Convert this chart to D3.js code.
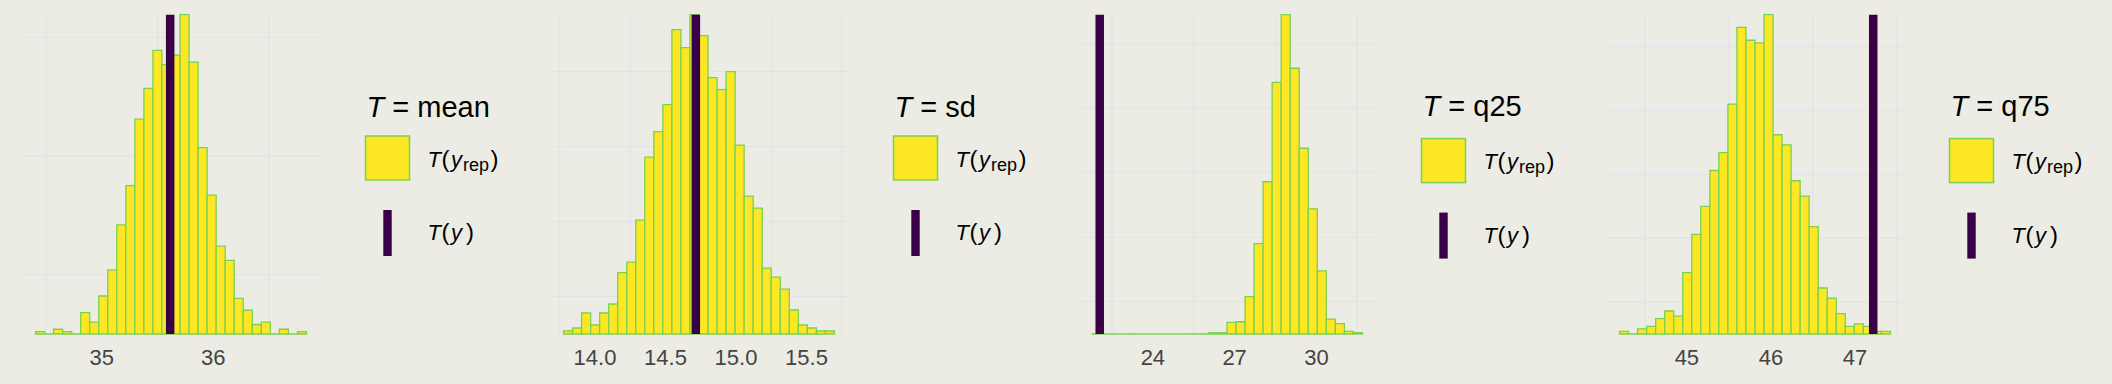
<!DOCTYPE html>
<html>
<head>
<meta charset="utf-8">
<script src="https://cdn.jsdelivr.net/npm/d3@7"></script>
<style>
  html, body { margin: 0; padding: 0; background: #ECECE4; }
  svg { display: block; }
  text { font-family: "Liberation Sans", Arial, sans-serif; }
</style>
</head>
<body>
<svg id="chart"></svg>
<script>
/* Data */
const statNames = ['mean', 'sd', 'q25', 'q75'];
// left / right edge of the 30 histogram bins
const binStarts = [34.405, 13.777, 21.75, 44.199];
const binEnds = [36.836, 15.698, 31.69, 47.422];
// observed statistic T(y)
const observed = [35.613, 14.715, 22.05, 47.217];

const countsMean = [2, 0, 4, 2, 0, 18, 10, 32, 54, 92, 125, 181, 207, 239, 227,
  235, 269, 229, 157, 117, 74, 62, 30, 20, 8, 10, 0, 4, 0, 2];
const countsSd = [2, 4, 14, 6, 14, 20, 41, 48, 76, 118, 135, 153, 203, 191, 213,
  199, 171, 163, 175, 126, 92, 84, 44, 38, 30, 16, 6, 4, 2, 2];
const countsQ25 = [0, 0, 0, 0, 0, 0, 0, 0, 0, 0, 0, 0, 0, 2, 2,
  18, 19, 58, 140, 236, 390, 495, 412, 288, 194, 98, 23, 16, 4, 2];
const countsQ75 = [2, 0, 4, 6, 12, 18, 14, 48, 78, 100, 128, 142, 180, 240, 230,
  228, 250, 156, 148, 120, 108, 84, 36, 28, 16, 6, 8, 6, 2, 2];
const allCounts = [countsMean, countsSd, countsQ25, countsQ75];

const ticksMean = [35, 36];
const ticksSd = [14.0, 14.5, 15.0, 15.5];
const ticksQ25 = [24, 27, 30];
const ticksQ75 = [45, 46, 47];
const allTicks = [ticksMean, ticksSd, ticksQ25, ticksQ75];
const tickFormats = ['d', '.1f', 'd', 'd'];
// step between major count breaks (grid is drawn at the minor ones)
const countSteps = [100, 50, 100, 50];

/* Layout */
const width = 2112, height = 384;
const panelW = 528;
const plot = { left: 22, right: 320, top: 14.7, bottom: 334 };
const colors = {
  bg: '#ECECE4',
  grid: '#E2E2E9',
  fill: '#FDE725',
  outline: '#7AD151',
  dark: '#3A0045',
  tick: '#444444'
};

const svg = d3.select('#chart')
  .attr('width', width)
  .attr('height', height);

svg.append('rect')
  .attr('width', width)
  .attr('height', height)
  .attr('fill', colors.bg);

function drawPanel(i) {
  const g = svg.append('g')
    .attr('transform', 'translate(' + (i * panelW) + ',0)');

  const counts = allCounts[i];
  const ticks = allTicks[i];
  const lo = binStarts[i], hi = binEnds[i];
  const pad = (hi - lo) * 0.05;
  const binW = (hi - lo) / counts.length;

  const x = d3.scaleLinear()
    .domain([lo - pad, hi + pad])
    .range([plot.left, plot.right]);
  const y = d3.scaleLinear()
    .domain([0, d3.max(counts)])
    .range([plot.bottom, plot.top]);

  // minor grid lines, halfway between major breaks
  const tickStep = ticks[1] - ticks[0];
  const xMinor = d3.range(ticks[0] - tickStep * 3.5, ticks[ticks.length - 1] + tickStep * 3, tickStep)
    .filter(v => v >= x.domain()[0] && v <= x.domain()[1]);
  const step = countSteps[i];
  const yMinor = d3.range(step / 2, d3.max(counts), step);

  const grid = g.append('g').attr('class', 'grid');
  grid.selectAll('line.gx')
    .data(xMinor)
    .enter()
    .append('line')
      .attr('class', 'gx')
      .attr('x1', d => x(d)).attr('x2', d => x(d))
      .attr('y1', plot.top).attr('y2', plot.bottom)
      .attr('stroke', colors.grid)
      .attr('stroke-width', 1.2);
  grid.selectAll('line.gy')
    .data(yMinor)
    .enter()
    .append('line')
      .attr('class', 'gy')
      .attr('x1', plot.left).attr('x2', plot.right)
      .attr('y1', d => y(d)).attr('y2', d => y(d))
      .attr('stroke', colors.grid)
      .attr('stroke-width', 1.2);

  // histogram of T(yrep); paths so empty bins still show their outline
  g.append('g')
    .selectAll('path')
    .data(counts)
    .enter()
    .append('path')
      .attr('d', (d, j) => {
        const x0 = x(lo + j * binW), x1 = x(lo + (j + 1) * binW);
        return 'M' + x0 + ',' + y(0) + 'V' + y(d) + 'H' + x1 + 'V' + y(0) + 'Z';
      })
      .attr('fill', colors.fill)
      .attr('stroke', colors.outline)
      .attr('stroke-width', 1.3);

  // observed T(y)
  g.append('line')
    .attr('x1', x(observed[i])).attr('x2', x(observed[i]))
    .attr('y1', plot.top).attr('y2', plot.bottom)
    .attr('stroke', colors.dark)
    .attr('stroke-width', 8.5);

  // x axis labels only
  const fmt = d3.format(tickFormats[i]);
  g.append('g')
    .selectAll('text')
    .data(ticks)
    .enter()
    .append('text')
      .attr('x', d => x(d))
      .attr('y', 365)
      .attr('text-anchor', 'middle')
      .attr('font-size', 22)
      .attr('fill', colors.tick)
      .text(d => fmt(d));

  drawLegend(g, statNames[i]);
}

function drawLegend(g, stat) {
  // titles with descenders (q25, q75) push the keys down a little
  const desc = /[gjpqy]/.test(stat);
  const titleY = desc ? 115.6 : 117.3;
  const keyY = desc ? 2.6 : 0;

  const leg = g.append('g').attr('class', 'legend');

  const title = leg.append('text')
    .attr('x', 366.5)
    .attr('y', titleY)
    .attr('font-size', 29)
    .attr('fill', '#000');
  title.append('tspan').attr('font-style', 'italic').text('T');
  title.append('tspan').text(' = ' + stat);

  leg.append('rect')
    .attr('x', 365.5)
    .attr('y', 136 + keyY)
    .attr('width', 44)
    .attr('height', 44)
    .attr('fill', colors.fill)
    .attr('stroke', colors.outline)
    .attr('stroke-width', 1.5);

  const lab1 = leg.append('text')
    .attr('x', 427.5)
    .attr('y', 166.7 + keyY)
    .attr('font-size', 22)
    .attr('fill', '#000');
  lab1.append('tspan').attr('font-style', 'italic').text('T');
  lab1.append('tspan').attr('dx', 0.5).attr('font-size', 24).text('(');
  lab1.append('tspan').attr('dx', 1.5).attr('font-style', 'italic').text('y');
  lab1.append('tspan').attr('dx', 1).attr('font-size', 18).attr('dy', 4).text('rep');
  lab1.append('tspan').attr('dx', 1.5).attr('font-size', 24).attr('dy', -4).text(')');

  leg.append('rect')
    .attr('x', 383.3)
    .attr('y', 210 + keyY)
    .attr('width', 8.4)
    .attr('height', 46)
    .attr('fill', colors.dark);

  const lab2 = leg.append('text')
    .attr('x', 427.5)
    .attr('y', 240 + keyY)
    .attr('font-size', 22)
    .attr('fill', '#000');
  lab2.append('tspan').attr('font-style', 'italic').text('T');
  lab2.append('tspan').attr('dx', 0.5).attr('font-size', 24).text('(');
  lab2.append('tspan').attr('dx', 1.5).attr('font-style', 'italic').text('y');
  lab2.append('tspan').attr('dx', 4).attr('font-size', 24).text(')');
}

statNames.forEach((d, i) => drawPanel(i));
</script>
</body>
</html>
